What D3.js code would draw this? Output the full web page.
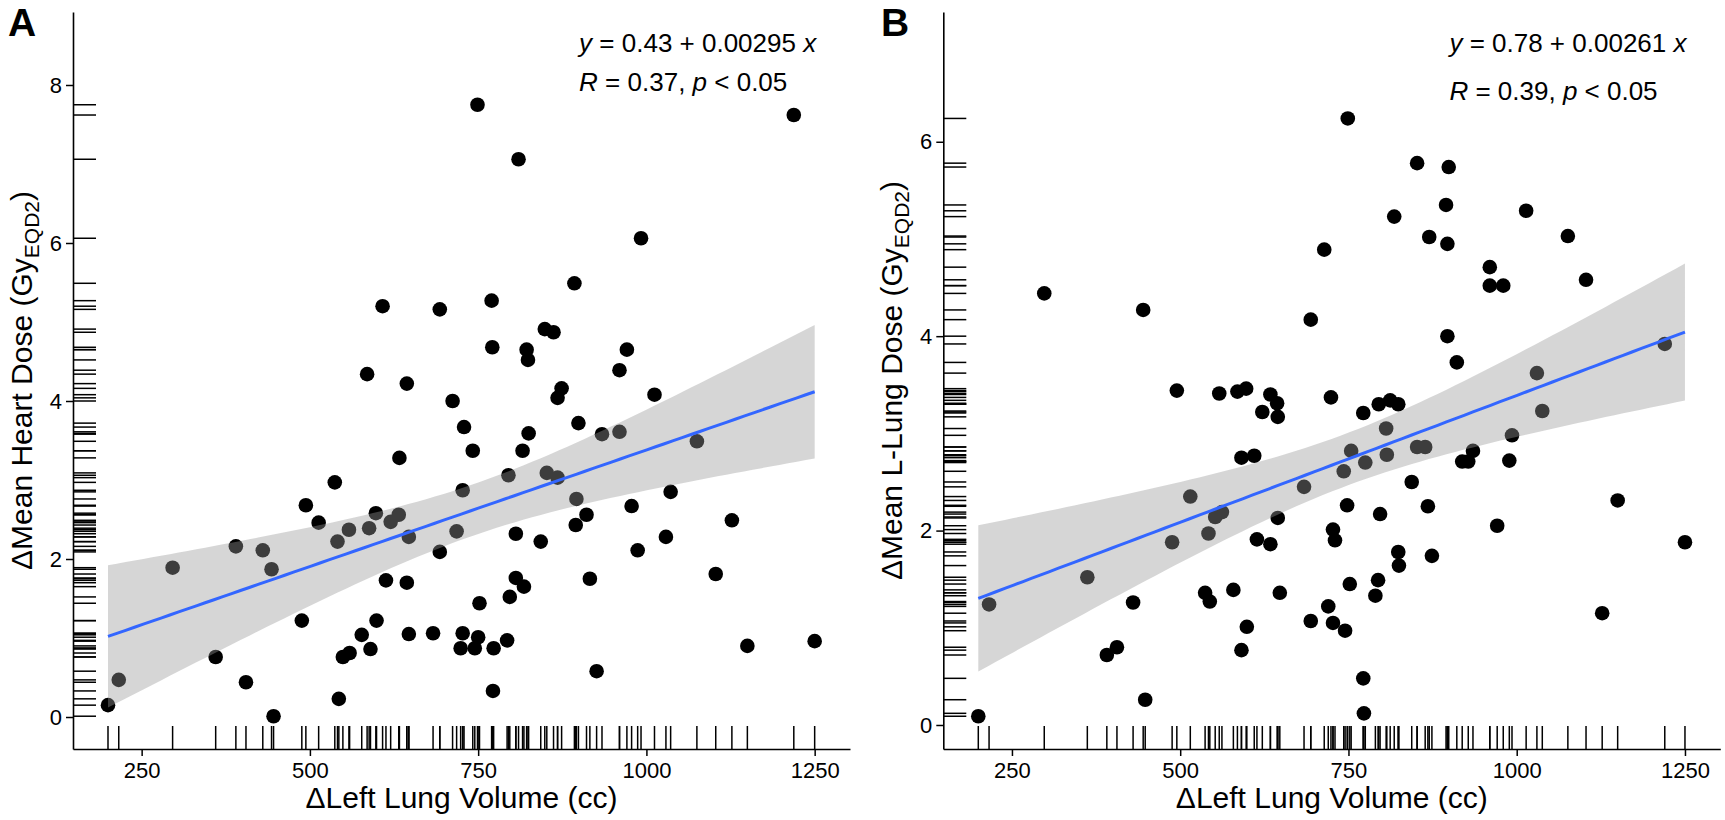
<!DOCTYPE html>
<html><head><meta charset="utf-8">
<script src="https://cdn.jsdelivr.net/npm/d3@7"></script>
<style>body{margin:0;background:#fff} text{font-family:"Liberation Sans",Arial,sans-serif;fill:#000}</style>
</head><body><svg id="c" width="1725" height="820"></svg>
<script>
// ---- Panel A data: ΔLeft Lung Volume (cc) vs ΔMean Heart Dose
const lungVolA = [608,585,644,200,216,296,360,390,405,430,443,446,488,494,513,537,541,543,549,559,558,577,588,590,598,599,613,620,632,633,644,647,647,749,810,1219,992,893,693,770,849,862,771,822,824,971,960,874,868,1012,712,729,899,825,934,960,742,816,1075,795,852,868,727,896,1036,978,911,895,1127,718,806,843,1029,987,693,916,1103,806,818,797,752,683,727,724,750,745,773,793,1150,1250,926,772];
const heartDose = [5.20,4.34,4.22,0.15,0.47,1.89,0.76,2.16,0.44,2.11,1.87,0.01,1.22,2.68,2.46,2.97,2.22,0.23,0.76,0.81,2.37,1.04,2.39,0.86,2.58,1.22,1.73,2.47,2.56,3.28,1.70,1.05,2.28,7.75,7.06,7.62,6.06,5.49,5.16,5.27,4.91,4.87,4.68,4.65,4.52,4.65,4.39,4.16,4.04,4.08,4.00,3.67,3.72,3.59,3.58,3.61,3.37,3.37,3.49,3.06,3.09,3.03,2.87,2.76,2.85,2.67,2.56,2.43,2.49,2.35,2.32,2.22,2.28,2.11,2.09,1.75,1.81,1.76,1.65,1.52,1.44,1.06,1.06,0.87,1.01,0.87,0.87,0.97,0.90,0.96,0.58,0.33];
// ---- Panel B data: ΔLeft Lung Volume (cc) vs ΔMean L-Lung Dose
const lungVolB = [298,445,495,558,585,598,634,644,622,645,200,216,362,391,406,430,448,488,515,537,544,542,552,562,579,591,599,591,610,614,634,645,648,684,749,852,899,895,818,1014,870,897,1076,714,960,960,980,1103,694,897,911,1220,1030,724,795,812,824,772,1038,806,993,754,807,852,864,935,775,919,928,989,743,844,748,868,797,1150,971,727,730,1250,824,825,874,752,794,790,720,694,727,745,1127,772,773];
const lungDose = [4.44,4.27,3.44,3.41,3.43,3.46,3.40,3.31,3.22,3.17,0.09,1.24,1.52,0.72,0.80,1.26,0.26,1.88,2.35,1.36,1.27,1.97,2.14,2.19,1.39,0.77,1.01,2.75,2.77,1.91,1.86,2.13,1.36,2.45,6.24,5.78,5.74,5.35,5.23,5.29,5.02,4.95,5.03,4.89,4.71,4.52,4.52,4.58,4.17,4.00,3.73,3.92,3.62,3.37,3.30,3.34,3.30,3.21,3.23,3.05,2.98,2.82,2.78,2.86,2.86,2.82,2.70,2.71,2.71,2.72,2.61,2.50,2.26,2.25,2.17,2.31,2.05,2.01,1.90,1.88,1.78,1.64,1.74,1.45,1.49,1.33,1.22,1.07,1.05,0.97,1.15,0.48,0.12];
// ---- ticks, fits, labels
const xTicks = [250,500,750,1000,1250];
const yTicksA = [0,2,4,6,8];
const yTicksB = [0,2,4,6];
const fitCoefA = [0.43, 0.00295];
const fitCoefB = [0.78, 0.00261];
const eqTextA = ["0.43 + 0.00295"];
const eqTextB = ["0.78 + 0.00261"];
const corTextA = ["0.37", "< 0.05"];
const corTextB = ["0.39", "< 0.05"];
const labelPosA = [900, 8.42, 7.93];
const labelPosB = [900, 6.92, 6.43];

const svg = d3.select("#c");
const FONT = '"Liberation Sans",Arial,sans-serif';

function panel(o){
  const x = d3.scaleLinear().domain(o.xDom).range([o.left, o.right]);
  const y = d3.scaleLinear().domain(o.yDom).range([749, 12]);
  const g = svg.append("g");
  const pts = o.xs.map((v,i)=>({x:v,y:o.ys[i]}));
  // rugs
  g.append("g").selectAll("line.rx").data(pts).join("line")
    .attr("x1",d=>x(d.x)).attr("x2",d=>x(d.x)).attr("y1",749).attr("y2",749-23)
    .attr("stroke","#000").attr("stroke-width",1.5);
  g.append("g").selectAll("line.ry").data(pts).join("line")
    .attr("y1",d=>y(d.y)).attr("y2",d=>y(d.y)).attr("x1",o.left).attr("x2",o.left+23)
    .attr("stroke","#000").attr("stroke-width",1.5);
  // points
  g.append("g").selectAll("circle").data(pts).join("circle")
    .attr("cx",d=>x(d.x)).attr("cy",d=>y(d.y)).attr("r",7.3).attr("fill","#000");
  // confidence band
  const [a,b] = o.coef;
  const n = pts.length, xbar = d3.mean(o.xs);
  const sxx = d3.sum(o.xs, v=>(v-xbar)**2);
  const s = Math.sqrt(d3.sum(pts, d=>(d.y-(a+b*d.x))**2)/(n-2));
  const t = 1.986;
  const [x0,x1] = d3.extent(o.xs);
  const grid = d3.range(81).map(i=>x0+(x1-x0)*i/80);
  const band = grid.map(v=>{const se=s*Math.sqrt(1/n+(v-xbar)**2/sxx); const f=a+b*v; return {x:v,lo:f-t*se,hi:f+t*se,f};});
  g.append("path").datum(band)
    .attr("d", d3.area().x(d=>x(d.x)).y0(d=>y(d.lo)).y1(d=>y(d.hi)))
    .attr("fill","#999999").attr("fill-opacity",0.4);
  g.append("path").datum(band)
    .attr("d", d3.line().x(d=>x(d.x)).y(d=>y(d.f)))
    .attr("fill","none").attr("stroke","#3366FF").attr("stroke-width",3);
  // axes
  const ax = g.append("g").attr("transform","translate(0,749)")
    .call(d3.axisBottom(x).tickValues(xTicks).tickFormat(d3.format("d")).tickSize(7).tickPadding(6).tickSizeOuter(0));
  const ay = g.append("g").attr("transform",`translate(${o.left},0)`)
    .call(d3.axisLeft(y).tickValues(o.yTicks).tickFormat(d3.format("d")).tickSize(7).tickPadding(4).tickSizeOuter(0));
  [ax,ay].forEach(a=>{
    a.selectAll("text").attr("font-size",22).attr("font-family",FONT).attr("fill","#000");
    a.selectAll("line").attr("stroke","#000").attr("stroke-width",1.5);
    a.select(".domain").attr("stroke","#000").attr("stroke-width",1.6);
  });
  // axis titles
  g.append("text").attr("x",(o.left+o.right)/2).attr("y",808).attr("text-anchor","middle")
    .attr("font-size",30).text("ΔLeft Lung Volume (cc)");
  const yt = g.append("text").attr("text-anchor","middle").attr("font-size",30)
    .attr("transform",`translate(${o.ytitleX},380.5) rotate(-90)`);
  yt.append("tspan").text(o.ytitle + " (Gy");
  yt.append("tspan").attr("font-size",21).attr("dy",7).text("EQD2");
  yt.append("tspan").attr("dy",-7).text(")");
  // letter
  g.append("text").attr("x",o.letterX).attr("y",35.5).attr("font-size",39).attr("font-weight","bold").text(o.letter);
  // equation & correlation
  const e = g.append("text").attr("x",x(o.lab[0])).attr("y",y(o.lab[1])).attr("font-size",26);
  e.append("tspan").attr("font-style","italic").text("y");
  e.append("tspan").text(" = " + o.eq + " ");
  e.append("tspan").attr("font-style","italic").text("x");
  const r = g.append("text").attr("x",x(o.lab[0])).attr("y",y(o.lab[2])).attr("font-size",26);
  r.append("tspan").attr("font-style","italic").text("R");
  r.append("tspan").text(" = " + o.cor[0] + ", ");
  r.append("tspan").attr("font-style","italic").text("p");
  r.append("tspan").text(" " + o.cor[1]);
}

panel({left:73,right:850,xDom:[148,1302.5],yDom:[-0.405,8.924],xs:lungVolA,ys:heartDose,
  coef:fitCoefA,yTicks:yTicksA,ytitle:"ΔMean Heart Dose",ytitleX:32,letter:"A",letterX:8,
  eq:eqTextA[0],cor:corTextA,lab:labelPosA});
panel({left:943.3,right:1720.3,xDom:[148,1302.5],yDom:[-0.247,7.335],xs:lungVolB,ys:lungDose,
  coef:fitCoefB,yTicks:yTicksB,ytitle:"ΔMean L-Lung Dose",ytitleX:902,letter:"B",letterX:881,
  eq:eqTextB[0],cor:corTextB,lab:labelPosB});
</script></body></html>
